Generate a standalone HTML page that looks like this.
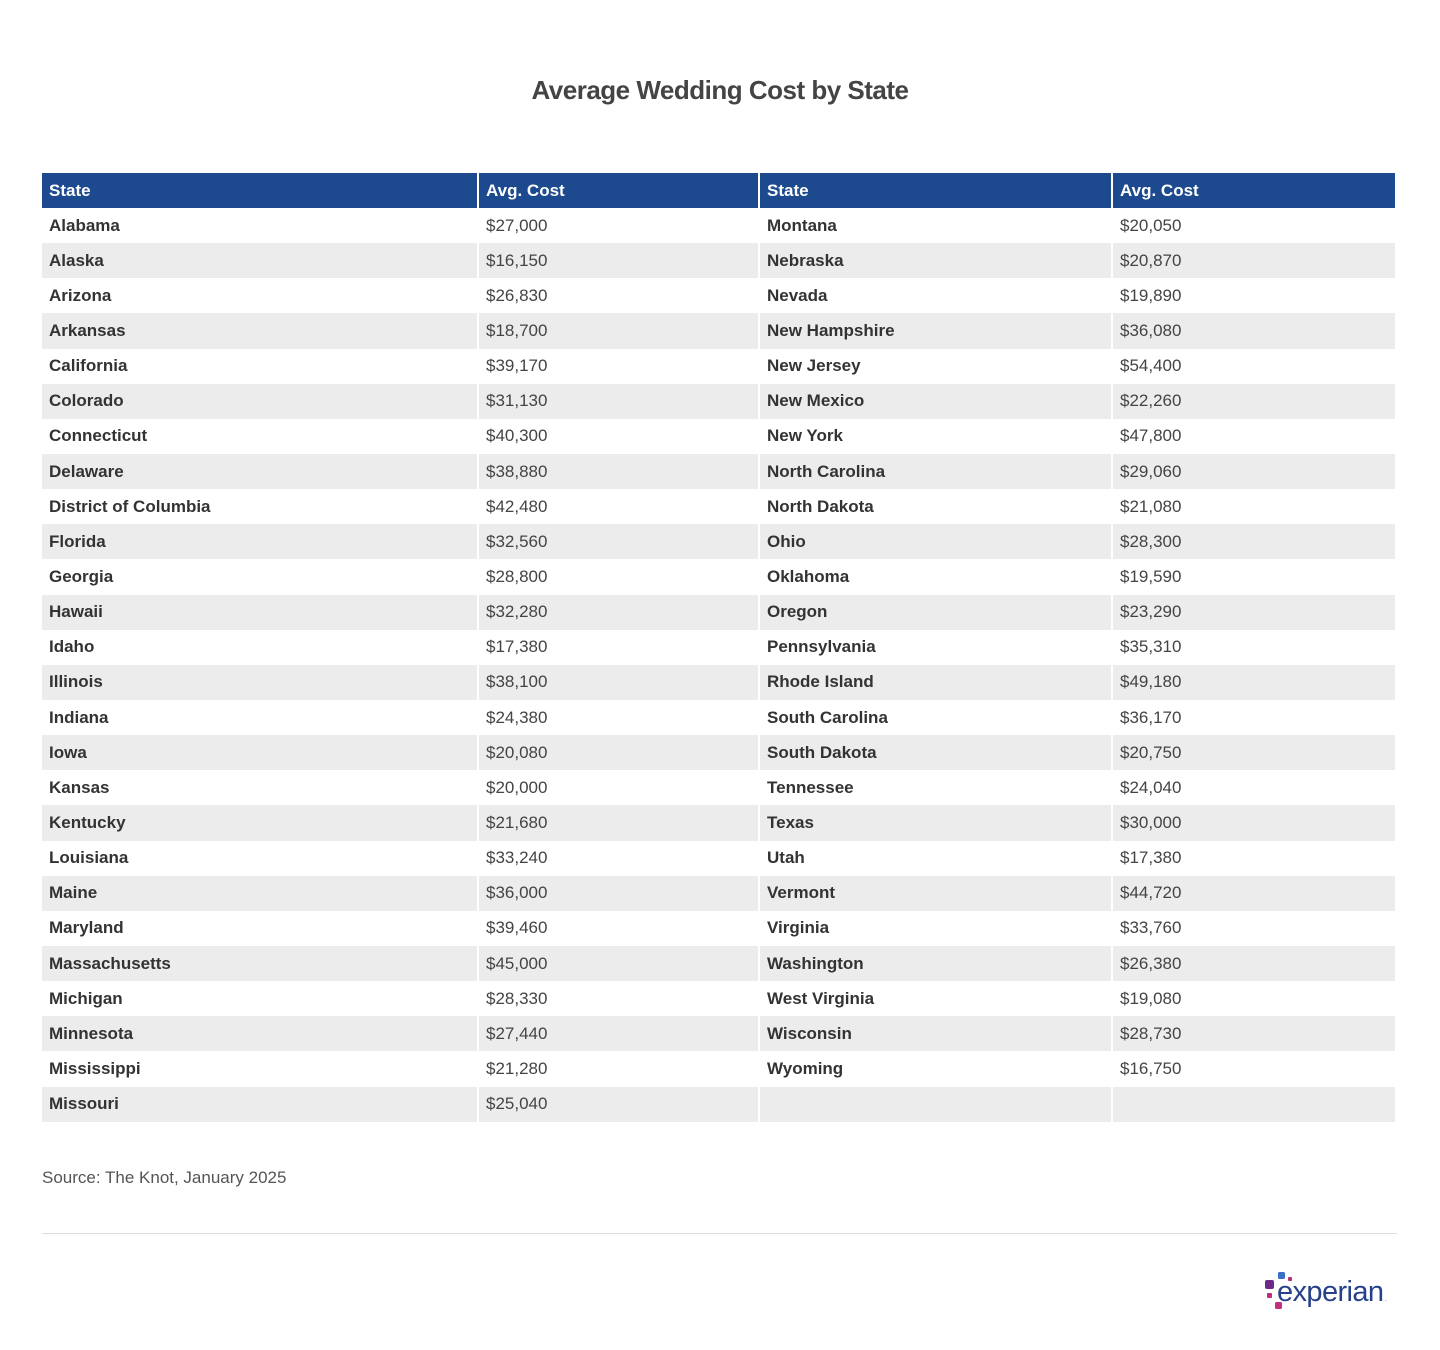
<!DOCTYPE html>
<html><head><meta charset="utf-8"><style>
body{margin:0;width:1440px;height:1350px;background:#fff;font-family:"Liberation Sans",sans-serif;position:relative;overflow:hidden}
h1{position:absolute;top:75px;left:0;width:1440px;text-align:center;margin:0;font-size:26px;color:#444;font-weight:bold;letter-spacing:-0.5px}
table{position:absolute;left:42px;top:173px;width:1353px;border-collapse:collapse;table-layout:fixed}
td,th{height:35.15px;padding:0 0 0 7px;font-size:17px;text-align:left;border-left:2px solid #fff;box-sizing:border-box}
td:first-child,th:first-child{border-left:none}
th{background:#1d4a8e;color:#fff;font-weight:bold;height:35px}
tr:nth-child(odd) td{background:#ececec}
td.s{font-weight:bold;color:#333}
td.v{color:#444}
.src{position:absolute;left:42px;top:1168px;font-size:17px;color:#555}
.hr{position:absolute;left:42px;top:1233px;width:1355px;height:1px;background:#ddd}
.logo{position:absolute;left:1262px;top:1270px;width:140px;height:45px}
</style></head><body>
<h1>Average Wedding Cost by State</h1>
<table>
<colgroup><col style="width:436px"><col style="width:281px"><col style="width:353px"><col style="width:283px"></colgroup>
<tr><th>State</th><th>Avg. Cost</th><th>State</th><th>Avg. Cost</th></tr>
<tr><td class="s">Alabama</td><td class="v">$27,000</td><td class="s">Montana</td><td class="v">$20,050</td></tr>
<tr><td class="s">Alaska</td><td class="v">$16,150</td><td class="s">Nebraska</td><td class="v">$20,870</td></tr>
<tr><td class="s">Arizona</td><td class="v">$26,830</td><td class="s">Nevada</td><td class="v">$19,890</td></tr>
<tr><td class="s">Arkansas</td><td class="v">$18,700</td><td class="s">New Hampshire</td><td class="v">$36,080</td></tr>
<tr><td class="s">California</td><td class="v">$39,170</td><td class="s">New Jersey</td><td class="v">$54,400</td></tr>
<tr><td class="s">Colorado</td><td class="v">$31,130</td><td class="s">New Mexico</td><td class="v">$22,260</td></tr>
<tr><td class="s">Connecticut</td><td class="v">$40,300</td><td class="s">New York</td><td class="v">$47,800</td></tr>
<tr><td class="s">Delaware</td><td class="v">$38,880</td><td class="s">North Carolina</td><td class="v">$29,060</td></tr>
<tr><td class="s">District of Columbia</td><td class="v">$42,480</td><td class="s">North Dakota</td><td class="v">$21,080</td></tr>
<tr><td class="s">Florida</td><td class="v">$32,560</td><td class="s">Ohio</td><td class="v">$28,300</td></tr>
<tr><td class="s">Georgia</td><td class="v">$28,800</td><td class="s">Oklahoma</td><td class="v">$19,590</td></tr>
<tr><td class="s">Hawaii</td><td class="v">$32,280</td><td class="s">Oregon</td><td class="v">$23,290</td></tr>
<tr><td class="s">Idaho</td><td class="v">$17,380</td><td class="s">Pennsylvania</td><td class="v">$35,310</td></tr>
<tr><td class="s">Illinois</td><td class="v">$38,100</td><td class="s">Rhode Island</td><td class="v">$49,180</td></tr>
<tr><td class="s">Indiana</td><td class="v">$24,380</td><td class="s">South Carolina</td><td class="v">$36,170</td></tr>
<tr><td class="s">Iowa</td><td class="v">$20,080</td><td class="s">South Dakota</td><td class="v">$20,750</td></tr>
<tr><td class="s">Kansas</td><td class="v">$20,000</td><td class="s">Tennessee</td><td class="v">$24,040</td></tr>
<tr><td class="s">Kentucky</td><td class="v">$21,680</td><td class="s">Texas</td><td class="v">$30,000</td></tr>
<tr><td class="s">Louisiana</td><td class="v">$33,240</td><td class="s">Utah</td><td class="v">$17,380</td></tr>
<tr><td class="s">Maine</td><td class="v">$36,000</td><td class="s">Vermont</td><td class="v">$44,720</td></tr>
<tr><td class="s">Maryland</td><td class="v">$39,460</td><td class="s">Virginia</td><td class="v">$33,760</td></tr>
<tr><td class="s">Massachusetts</td><td class="v">$45,000</td><td class="s">Washington</td><td class="v">$26,380</td></tr>
<tr><td class="s">Michigan</td><td class="v">$28,330</td><td class="s">West Virginia</td><td class="v">$19,080</td></tr>
<tr><td class="s">Minnesota</td><td class="v">$27,440</td><td class="s">Wisconsin</td><td class="v">$28,730</td></tr>
<tr><td class="s">Mississippi</td><td class="v">$21,280</td><td class="s">Wyoming</td><td class="v">$16,750</td></tr>
<tr><td class="s">Missouri</td><td class="v">$25,040</td><td></td><td></td></tr>
</table>
<div class="src">Source: The Knot, January 2025</div>
<div class="hr"></div>
<svg class="logo" viewBox="0 0 140 45">
<rect x="16" y="2" width="7" height="7" rx="1.5" fill="#3a6fc4"/>
<rect x="26" y="7" width="4" height="4" rx="1" fill="#b8307a"/>
<rect x="3" y="10" width="9" height="9" rx="2" fill="#6b2a8c"/>
<rect x="5" y="23" width="5" height="5" rx="1" fill="#b8307a"/>
<rect x="13" y="32" width="7" height="7" rx="1.5" fill="#c2307e"/>
<text x="15" y="31" font-family="Liberation Sans,sans-serif" font-size="29" fill="#26418a" letter-spacing="-0.6">experian</text>
<text x="123" y="31" font-size="6" fill="#26418a" font-family="Liberation Sans,sans-serif">.</text>
</svg>
</body></html>
